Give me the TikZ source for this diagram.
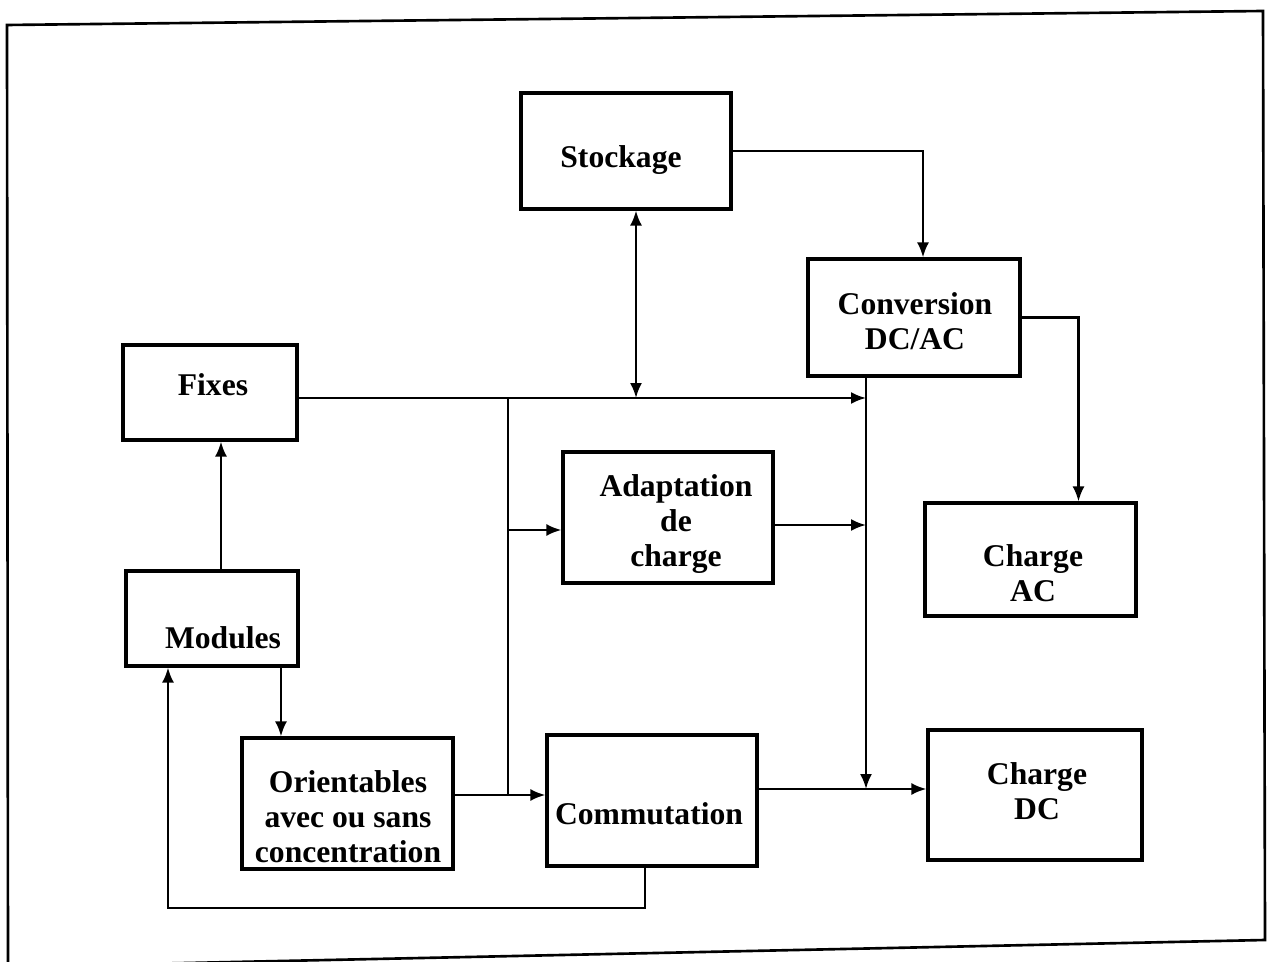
\documentclass[tikz,border=0pt]{standalone}
\usepackage{fontspec}
\setmainfont{Liberation Serif}
\usetikzlibrary{arrows.meta,fit,calc}
\begin{document}
\begin{tikzpicture}[x=0.02cm,y=-0.02cm,
  box/.style={draw,line width=1.8pt,inner sep=0pt},
  txt/.style={font=\bfseries\fontsize{18}{20}\selectfont,align=center,inner sep=0pt},
  conn/.style={line width=1.3pt},
  arr/.style={conn,-{Latex[length=0.3cm,width=0.24cm]}},
  dbl/.style={conn,{Latex[length=0.3cm,width=0.24cm]}-{Latex[length=0.3cm,width=0.24cm]}}]
\useasboundingbox (0,0) rectangle (1268,962);
% frame
\draw[line width=1.5pt] (8,970) -- (7,25) -- (1263,11) -- (1265,940) -- (140,964);
% boxes
\node[box,fit={(521,93)(731,209)}] (stock) {};
\node[box,fit={(808,259)(1020,376)}] (conv) {};
\node[box,fit={(123,345)(297,440)}] (fixes) {};
\node[box,fit={(563,452)(773,583)}] (adapt) {};
\node[box,fit={(925,503)(1136,616)}] (chac) {};
\node[box,fit={(126,571)(298,666)}] (mod) {};
\node[box,fit={(242,738)(453,869)}] (orient) {};
\node[box,fit={(547,735)(757,866)}] (comm) {};
\node[box,fit={(928,730)(1142,860)}] (chdc) {};
% texts
\node[txt] (tstock) at (621,160) {Stockage};
\node[txt] (tconv) at (915,321) {Conversion\\DC/AC};
\node[txt] (tfixes) at (213,385) {Fixes};
\node[txt] (tadapt) at (676,524) {Adaptation\\de\\charge};
\node[txt] (tchac) at (1033,573) {Charge\\AC};
\node[txt] (tmod) at (223,638) {Modules};
\node[txt] (torient) at (348,817) {Orientables\\avec ou sans\\concentration};
\node[txt] (tcomm) at (649,814) {Commutation};
\node[txt] (tchdc) at (1037,791) {Charge\\DC};
% junctions
\coordinate (jA) at (508,398);
\coordinate (jS) at (636,398);
\coordinate (jB) at (866,398);
\coordinate (jAd) at (508,530);
\coordinate (jAr) at (866,525);
\coordinate (jO) at (508,795);
\coordinate (jD) at (866,789);
\coordinate (fb) at (168,908);
% connectors
\draw[arr] (stock.east) -| ([xshift=0.18cm]conv.north);
\draw[dbl] (stock.south -| jS) -- (jS);
\draw[arr] (fixes.east |- jA) -- (jB);
\draw[conn] (jA) -- (jO);
\draw[arr] (jAd) -- (adapt.west |- jAd);
\draw[arr] (adapt.east |- jAr) -- (jAr);
\draw[arr] (conv.south -| jB) -- (jD);
\draw[arr] (conv.east) -| ([xshift=0.96cm]chac.north);
\draw[conn] (orient.east |- jO) -- (jO);
\draw[arr] (jO) -- (comm.west |- jO);
\draw[arr] (comm.east |- jD) -- (chdc.west |- jD);
\draw[arr] ([xshift=0.18cm]mod.north) coordinate (m1) -- (fixes.south -| m1);
\draw[arr] ([xshift=1.38cm]mod.south) coordinate (m2) -- (orient.north -| m2);
\draw[arr] ([xshift=-0.14cm]comm.south) |- (fb) -- (mod.south -| fb);
\end{tikzpicture}
\end{document}
